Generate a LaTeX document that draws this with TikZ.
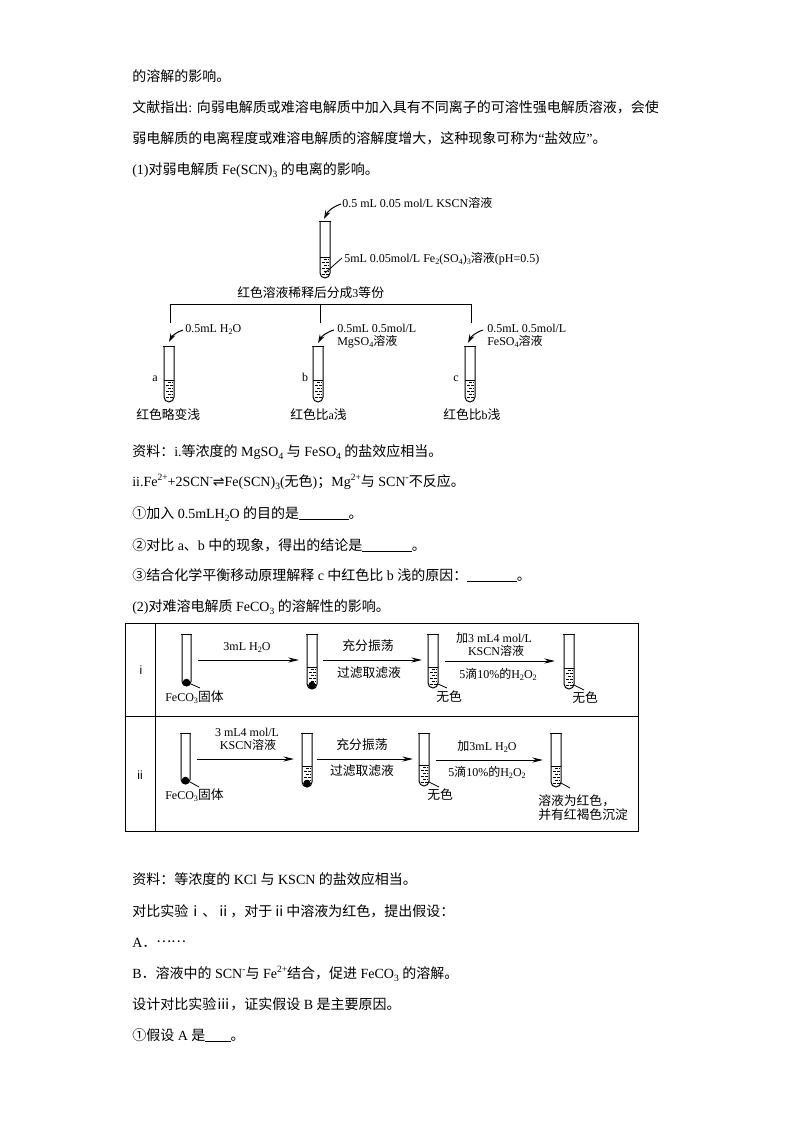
\documentclass[tikz,border=0pt]{standalone}
\usepackage{fontspec}
\setmainfont{Liberation Serif}
\newfontfamily\cjk{Noto Sans CJK SC}
\newfontfamily\sym{DejaVu Sans}
\newfontfamily\lsans{Liberation Sans}
\usetikzlibrary{arrows.meta}
\newcommand{\zh}[1]{{\cjk #1}}
\newcommand{\fz}[1]{{\cjk\fontsize{9.6}{11}\selectfont #1}}
\newcommand{\lw}[1]{\raisebox{-0.22em}{\scalebox{0.68}{#1}}}
\newcommand{\hi}[1]{\raisebox{0.38em}{\scalebox{0.68}{#1}}}
\newcommand{\blank}[1]{\rule[-1.2pt]{#1}{0.5pt}}
\newcommand{\bodyf}{\fontsize{10.5}{12}\selectfont}
\newcommand{\figf}{\fontsize{9}{11}\selectfont}
\tikzset{
  x=0.75pt,y=-0.75pt,
  ln/.style={line width=0.75pt,black},
  thin line/.style={line width=0.6pt,black},
  tb/.style={anchor=base west,inner sep=0pt,yshift=-3.8pt,font=\bodyf},
  fl/.style={anchor=base west,inner sep=0pt,yshift=-3.2pt,font=\figf},
  fc/.style={anchor=base,inner sep=0pt,yshift=-3.2pt,font=\figf},
  flow/.style={line width=0.75pt,-{Stealth[length=8pt,width=3.8pt]}},
  drop/.style={line width=0.75pt,-{Stealth[length=6.5pt,width=4pt]},bend right=22},
}
% name, x left, x right, top, bottom, level (0 none), ball (1/0)
\newcommand{\tube}[7]{%
  \pgfmathsetmacro{\rr}{(#3-#2)/2}%
  \pgfmathsetmacro{\mx}{(#3+#2)/2}%
  \pgfmathsetmacro{\sb}{#5-\rr}%
  \coordinate (#1) at (\mx,#4);
  \draw[ln] (#2-1,#4) -- (#3+1,#4);
  \draw[ln] (#2,#4) -- (#2,\sb) arc[start angle=180,end angle=0,radius=\rr] -- (#3,#4);
  \ifnum#6>0
    \draw[ln] (#2,#6) -- (#3,#6);
    \pgfmathtruncatemacro{\nn}{int((#5-#6-3)/3)}%
    \foreach \i in {1,...,\nn}{%
      \pgfmathsetmacro{\yy}{#6+3*\i-0.5}%
      \pgfmathsetmacro{\off}{mod(\i,2)*2}%
      \draw[line width=0.7pt,dash pattern=on 2.4pt off 1pt] (#2+1.5+\off,\yy) -- (#3-1.5,\yy);
    }
  \fi
  \ifnum#7=1
    \fill (\mx,#5-3.5) circle[x radius=3.8,y radius=3.8];
  \fi
}
\begin{document}
\begin{tikzpicture}
\useasboundingbox (0,0) rectangle (794,1123);
\fill[white] (0,0) rectangle (794,1123);

% body text
\node[tb] (l1) at (132,76) {\zh{的溶解的影响。}};
\node[tb] (l2) at (132,107) {\zh{文献指出}: \zh{向弱电解质或难溶电解质中加入具有不同离子的可溶性强电解质溶液，会使}};
\node[tb] (l3) at (132,138) {\zh{弱电解质的电离程度或难溶电解质的溶解度增大，这种现象可称为}“\zh{盐效应}”\zh{。}};
\node[tb] (l4) at (132,169) {(1)\zh{对弱电解质} Fe(SCN)\lw{3} \zh{的电离的影响。}};

% experiment 1
\tube{t0}{320}{330}{222}{278}{257}{0}
\node[fl] (n1) at (342,203) {0.5 mL 0.05 mol/L KSCN\zh{溶液}};
\coordinate (d0) at (324,219);
\coordinate (s0) at (341,204);
\draw[drop] (s0) to (d0);
\node[fl] (n2) at (344,258) {5mL 0.05mol/L Fe\lw{2}(SO\lw{4})\lw{3}\zh{溶液}(pH=0.5)};
\coordinate (p0) at (342,258);
\coordinate (q0) at (325,273);
\draw[thin line] (p0) -- (q0);
\node[fl] (n3) at (237,293) {\fz{红色溶液稀释后分成}3\fz{等份}};

\coordinate (bl) at (170,304);
\coordinate (bm) at (320,304);
\coordinate (br) at (471,304);
\coordinate (bla) at (170,323);
\coordinate (bma) at (320,323);
\coordinate (bra) at (471,323);
\draw[ln] (bla) -- (bl) -- (br) -- (bra);
\draw[ln] (bm) -- (bma);

\tube{ta}{164}{174}{346}{402}{380}{0}
\tube{tb}{313}{323}{346}{402}{380}{0}
\tube{tc}{465}{475}{346}{402}{380}{0}
\coordinate (sa) at (183,330);
\coordinate (da) at (169,342);
\coordinate (sb) at (334,330);
\coordinate (db) at (318,343);
\coordinate (sc) at (483,330);
\coordinate (dc) at (468,343);
\draw[drop] (sa) to (da);
\draw[drop] (sb) to (db);
\draw[drop] (sc) to (dc);
\node[fl] (na1) at (185,328) {0.5mL H\lw{2}O};
\node[fl] (nb1) at (337,328) {0.5mL 0.5mol/L};
\node[fl] (nb2) at (337,341) {MgSO\lw{4}\zh{溶液}};
\node[fl] (nc1) at (487,328) {0.5mL 0.5mol/L};
\node[fl] (nc2) at (487,341) {FeSO\lw{4}\zh{溶液}};
\node[fc] (la) at (155,377) {a};
\node[fc] (lb) at (305,377) {b};
\node[fc] (lc) at (456,377) {c};
\node[fl] (ra) at (136,415) {\fz{红色略变浅}};
\node[fl] (rb) at (290,415) {\fz{红色比}a\fz{浅}};
\node[fl] (rc) at (443,415) {\fz{红色比}b\fz{浅}};

% middle text
\node[tb] (m1) at (132,451) {\zh{资料：}i.\zh{等浓度的} MgSO\lw{4} \zh{与} FeSO\lw{4} \zh{的盐效应相当。}};
\node[tb] (m2) at (132,481) {ii.Fe\hi{2+}+2SCN\hi{-}{\sym\char"21CC}Fe(SCN)\lw{3}(\zh{无色})\zh{；}Mg\hi{2+}\zh{与} SCN\hi{-}\zh{不反应。}};
\node[tb] (m3) at (132,513) {\zh{①加入} 0.5mLH\lw{2}O \zh{的目的是}\blank{37pt}\zh{。}};
\node[tb] (m4) at (132,545) {\zh{②对比} a\zh{、}b \zh{中的现象，得出的结论是}\blank{37pt}\zh{。}};
\node[tb] (m5) at (132,575) {\zh{③结合化学平衡移动原理解释} c \zh{中红色比} b \zh{浅的原因：}\blank{37pt}\zh{。}};
\node[tb] (m6) at (132,606) {(2)\zh{对难溶电解质} FeCO\lw{3} \zh{的溶解性的影响。}};

% table
\draw[ln] (125,623) rectangle (638,831);
\draw[ln] (125,716) -- (638,716);
\draw[ln] (155,623) -- (155,831);
\node[fc,font=\lsans\figf] (ri) at (141,670) {i};
\node[fc,font=\lsans\figf] (rii) at (140,775) {ii};

% row i
\tube{u1}{182}{191}{634}{686}{0}{1}
\tube{u2}{307}{317}{634}{689}{667}{1}
\tube{u3}{428}{438}{634}{688}{667}{0}
\tube{u4}{564}{574}{634}{689}{668}{0}
\coordinate (ua1) at (198,660);
\coordinate (ub1) at (299,660);
\coordinate (ua2) at (323,660);
\coordinate (ub2) at (422,660);
\coordinate (ua3) at (445,661);
\coordinate (ub3) at (555,661);
\draw[flow] (ua1) -- (ub1);
\draw[flow] (ua2) -- (ub2);
\draw[flow] (ua3) -- (ub3);
\coordinate (ul1) at (191,684);
\coordinate (um1) at (200,688);
\coordinate (ul3) at (438,684);
\coordinate (um3) at (447,688);
\coordinate (ul4) at (574,685);
\coordinate (um4) at (584,690);
\draw[thin line] (ul1) -- (um1);
\draw[thin line] (ul3) -- (um3);
\draw[thin line] (ul4) -- (um4);
\node[fc] (ut1) at (247,646) {3mL H\lw{2}O};
\node[fc] (ut2) at (368,646) {\fz{充分振荡}};
\node[fc] (ut3) at (369,673) {\fz{过滤取滤液}};
\node[fc] (ut4) at (494,638) {\zh{加}3 mL4 mol/L};
\node[fc] (ut5) at (496,651) {KSCN\zh{溶液}};
\node[fc] (ut6) at (498,674) {5\zh{滴}10\%\zh{的}H\lw{2}O\lw{2}};
\node[fl] (ut7) at (165,697) {FeCO\lw{3}\fz{固体}};
\node[fl] (ut8) at (436,697) {\fz{无色}};
\node[fl] (ut9) at (572,698) {\fz{无色}};

% row ii
\tube{v1}{181}{190}{733}{784}{0}{1}
\tube{v2}{302}{312}{733}{787}{766}{1}
\tube{v3}{419}{429}{733}{786}{765}{0}
\tube{v4}{551}{561}{733}{787}{766}{0}
\coordinate (va1) at (197,759);
\coordinate (vb1) at (294,759);
\coordinate (va2) at (317,759);
\coordinate (vb2) at (413,759);
\coordinate (va3) at (436,760);
\coordinate (vb3) at (543,760);
\draw[flow] (va1) -- (vb1);
\draw[flow] (va2) -- (vb2);
\draw[flow] (va3) -- (vb3);
\coordinate (vl1) at (190,782);
\coordinate (vm1) at (199,787);
\coordinate (vl3) at (429,782);
\coordinate (vm3) at (439,787);
\coordinate (vl4) at (561,783);
\coordinate (vm4) at (570,788);
\draw[thin line] (vl1) -- (vm1);
\draw[thin line] (vl3) -- (vm3);
\draw[thin line] (vl4) -- (vm4);
\node[fc] (vt1) at (247,732) {3 mL4 mol/L};
\node[fc] (vt2) at (248,745) {KSCN\zh{溶液}};
\node[fc] (vt3) at (362,745) {\fz{充分振荡}};
\node[fc] (vt4) at (362,771) {\fz{过滤取滤液}};
\node[fc] (vt5) at (487,746) {\zh{加}3mL H\lw{2}O};
\node[fc] (vt6) at (487,772) {5\zh{滴}10\%\zh{的}H\lw{2}O\lw{2}};
\node[fl] (vt7) at (165,795) {FeCO\lw{3}\fz{固体}};
\node[fl] (vt8) at (427,795) {\fz{无色}};
\node[fl] (vt9) at (538,801) {\fz{溶液为红色，}};
\node[fl] (vt10) at (538,815) {\fz{并有红褐色沉淀}};

% bottom text
\node[tb] (e1) at (132,879) {\zh{资料：等浓度的} KCl \zh{与} KSCN \zh{的盐效应相当。}};
\node[tb] (e2) at (132,911) {\zh{对比实验ⅰ、ⅱ，对于ⅱ中溶液为红色，提出假设：}};
\node[tb] (e3) at (132,942) {A\zh{．}\raisebox{0.35em}{\zh{……}}};
\node[tb] (e4) at (132,973) {B\zh{．溶液中的} SCN\hi{-}\zh{与} Fe\hi{2+}\zh{结合，促进} FeCO\lw{3} \zh{的溶解。}};
\node[tb] (e5) at (132,1004) {\zh{设计对比实验ⅲ，证实假设} B \zh{是主要原因。}};
\node[tb] (e6) at (132,1035) {\zh{①假设} A \zh{是}\blank{19pt}\zh{。}};
\end{tikzpicture}
\end{document}
